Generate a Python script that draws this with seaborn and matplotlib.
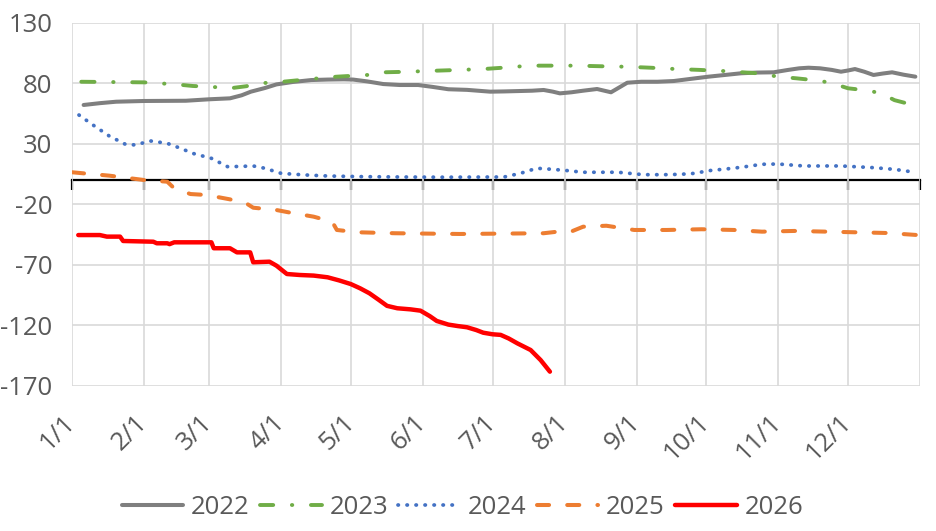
import matplotlib
matplotlib.use("Agg")
import matplotlib.pyplot as plt
import seaborn as sns

# ---------------- data (x = day of year, y = value) ----------------
month_labels = ["1/1", "2/1", "3/1", "4/1", "5/1", "6/1", "7/1", "8/1",
                "9/1", "10/1", "11/1", "12/1"]
month_starts = [0, 31, 59, 90, 120, 151, 181, 212, 243, 273, 304, 334]
year_end = 365
y_ticks = [-170, -120, -70, -20, 30, 80, 130]

d22 = [5, 12, 19, 31, 49, 59, 68, 73, 77, 83, 88, 95, 103, 110, 117, 121, 127, 134,
       141, 149, 155, 162, 170, 180, 186, 192, 198, 203, 207, 210, 215, 220, 226, 232,
       236, 239, 245, 252, 259, 266, 274, 281, 288, 295, 302, 308, 313, 317, 322, 327,
       331, 334, 337, 341, 345, 349, 353, 358, 363]
v22 = [62, 63.5, 64.7, 65.3, 65.5, 66.7, 67.5, 70, 73, 76, 79, 81, 82.6, 83, 83.2, 83,
       81.5, 79.3, 78.5, 78.5, 77, 75, 74.5, 73, 73.2, 73.5, 73.8, 74.4, 73, 71.6, 72.5,
       73.8, 75.2, 72.5, 77, 80.4, 81.2, 81.2, 81.8, 83.5, 85.4, 86.8, 88.2, 88.8, 89,
       90.9, 92.3, 92.8, 92.3, 91, 89.5, 90.5, 91.7, 89.5, 86.8, 88, 89, 87, 85.4]

d23 = [4, 31, 45, 52, 60, 68, 75, 81, 88, 95, 103, 114, 127, 134, 145, 156, 167, 177,
       187, 197, 207, 217, 228, 239, 249, 260, 270, 281, 295, 304, 312, 322, 328, 334,
       340, 345, 350, 354, 360, 365]
v23 = [81.2, 80.7, 79, 77.7, 77, 75.8, 77.5, 80, 80.7, 82, 83.5, 85.4, 86.8, 89, 89.5,
       90.3, 91, 91.7, 93, 94.5, 94.5, 94.5, 94, 93.6, 92.8, 91.7, 91, 90, 88.2, 85.4,
       84, 82, 79.5, 75.8, 74.5, 73, 70, 66, 63, 62.5]

d24 = [3, 9, 16, 23, 27, 34, 41, 47, 52, 60, 67, 72, 78, 83, 90, 100, 110, 124, 140,
       160, 186, 193, 200, 207, 213, 220, 235, 246, 255, 262, 268, 274, 281, 288, 297,
       304, 315, 331, 345, 354, 361]
v24 = [53.7, 45.5, 36.4, 29.5, 29, 32.2, 30.3, 26, 22, 17.9, 11, 11.2, 11.6, 9.7, 5.5,
       4.2, 3.3, 2.8, 2.5, 2.3, 2.5, 5.5, 9.7, 8.8, 7.8, 6.4, 6.4, 4.4, 4.4, 4.7, 5.5,
       7.7, 9, 10.5, 13, 13.2, 11.6, 11.6, 10.2, 8.8, 6.9]

d25 = [0, 5, 16, 31, 41, 44, 51, 58, 68, 75, 78, 88, 94, 104, 112, 114, 123, 139, 167,
       203, 209, 215, 220, 230, 242, 256, 271, 285, 297, 311, 337, 351, 364]
v25 = [6.4, 5.5, 3.6, 0, -1.4, -6.9, -11.6, -12.4, -16, -19.3, -22.9, -24.8, -27,
       -30.3, -34.5, -41.3, -43.2, -44, -44.6, -44, -42.7, -42.5, -38.6, -37.8, -41.3,
       -41.3, -40.7, -41.3, -42.7, -42.1, -43.2, -43.8, -45.5]

d26 = [2.7, 12, 15, 20.7, 22, 35, 36.5, 41, 42, 44, 60, 61, 68, 71, 76.7, 78, 85, 88,
       92.5, 98, 104, 110, 115, 120, 124, 128, 132, 135.6, 140, 145.7, 150, 154, 157,
       162, 166, 170, 174, 177, 181, 184.5, 188, 191.7, 197.4, 201.7, 205.7]
v26 = [-45.5, -45.5, -46.8, -46.8, -50.4, -51, -52.3, -52.3, -53, -51.5, -51.5, -56.4,
       -56.4, -59.8, -59.8, -68, -67.5, -70.8, -77.7, -78.5, -79, -80.4, -83, -86,
       -89.5, -93.6, -99, -104, -106, -106.9, -108, -112.5, -116.5, -119.5, -120.7,
       -121.7, -124, -126.2, -127.5, -128, -131, -135, -140.5, -148.8, -158.4]

# ---------------- style ----------------
sns.set_theme(style="white")
plt.rcParams['font.family'] = ['Open Sans', 'DejaVu Sans']
plt.rcParams['axes.unicode_minus'] = False
FS = 18.5
TXT = "#595959"

fig = plt.figure(figsize=(9.36, 5.31), dpi=100)
ax = fig.add_axes([72 / 936, 1 - 385.7 / 531, (920 - 72) / 936, (385.7 - 22.7) / 531])

series = [
    ("2022", d22, v22, "#7F7F7F", "-", 2.9),
    ("2023", d23, v23, "#70AD47", (0, (3.4, 4.8, 0.1, 4.8)), 2.8),
    ("2024", d24, v24, "#4472C4", (0, (0.1, 2.3)), 2.7),
    ("2025", d25, v25, "#ED7D31", (0, (3.0, 4.5)), 2.9),
    ("2026", d26, v26, "#FF0000", "-", 3.2),
]
for name, d, v, color, ls, lw in series:
    sns.lineplot(x=d, y=v, ax=ax, color=color, linestyle=ls, linewidth=lw,
                 label=name, sort=False, estimator=None,
                 dash_capstyle="round", solid_capstyle="round", zorder=3)

ax.set_xlim(0, year_end)
ax.set_ylim(-170, 130)
ax.set_yticks(y_ticks)
ax.set_xticks(month_starts + [year_end])
ax.set_xticklabels(month_labels + [""], rotation=45, ha="right", va="center",
                   rotation_mode="anchor")
ax.tick_params(axis="y", length=0, pad=14, labelsize=FS, labelcolor=TXT)
ax.tick_params(axis="x", length=0, pad=24, labelsize=FS, labelcolor=TXT)
ax.grid(True, color="#D9D9D9", linewidth=1.2)
ax.set_axisbelow(True)
for s in ax.spines.values():
    s.set_visible(False)
ax.set_xlabel("")
ax.set_ylabel("")

# zero axis with tick marks
sec = ax.secondary_xaxis(170 / 300)
sec.set_alignment("bottom")
sec.set_xticks(month_starts + [year_end])
sec.tick_params(axis="x", direction="out", length=7, width=1.6, color="black",
                labelbottom=False, labeltop=False)
sec.spines["bottom"].set_color("black")
sec.spines["bottom"].set_linewidth(1.6)

handles, labels = ax.get_legend_handles_labels()
ax.get_legend().remove()
fig.legend(handles, labels, loc="lower center", bbox_to_anchor=(0.494, -0.022),
           ncol=5, frameon=False, fontsize=FS, labelcolor=TXT,
           handlelength=2.4, handletextpad=0.3, columnspacing=0.4)

fig.savefig("out.png", dpi=100)
